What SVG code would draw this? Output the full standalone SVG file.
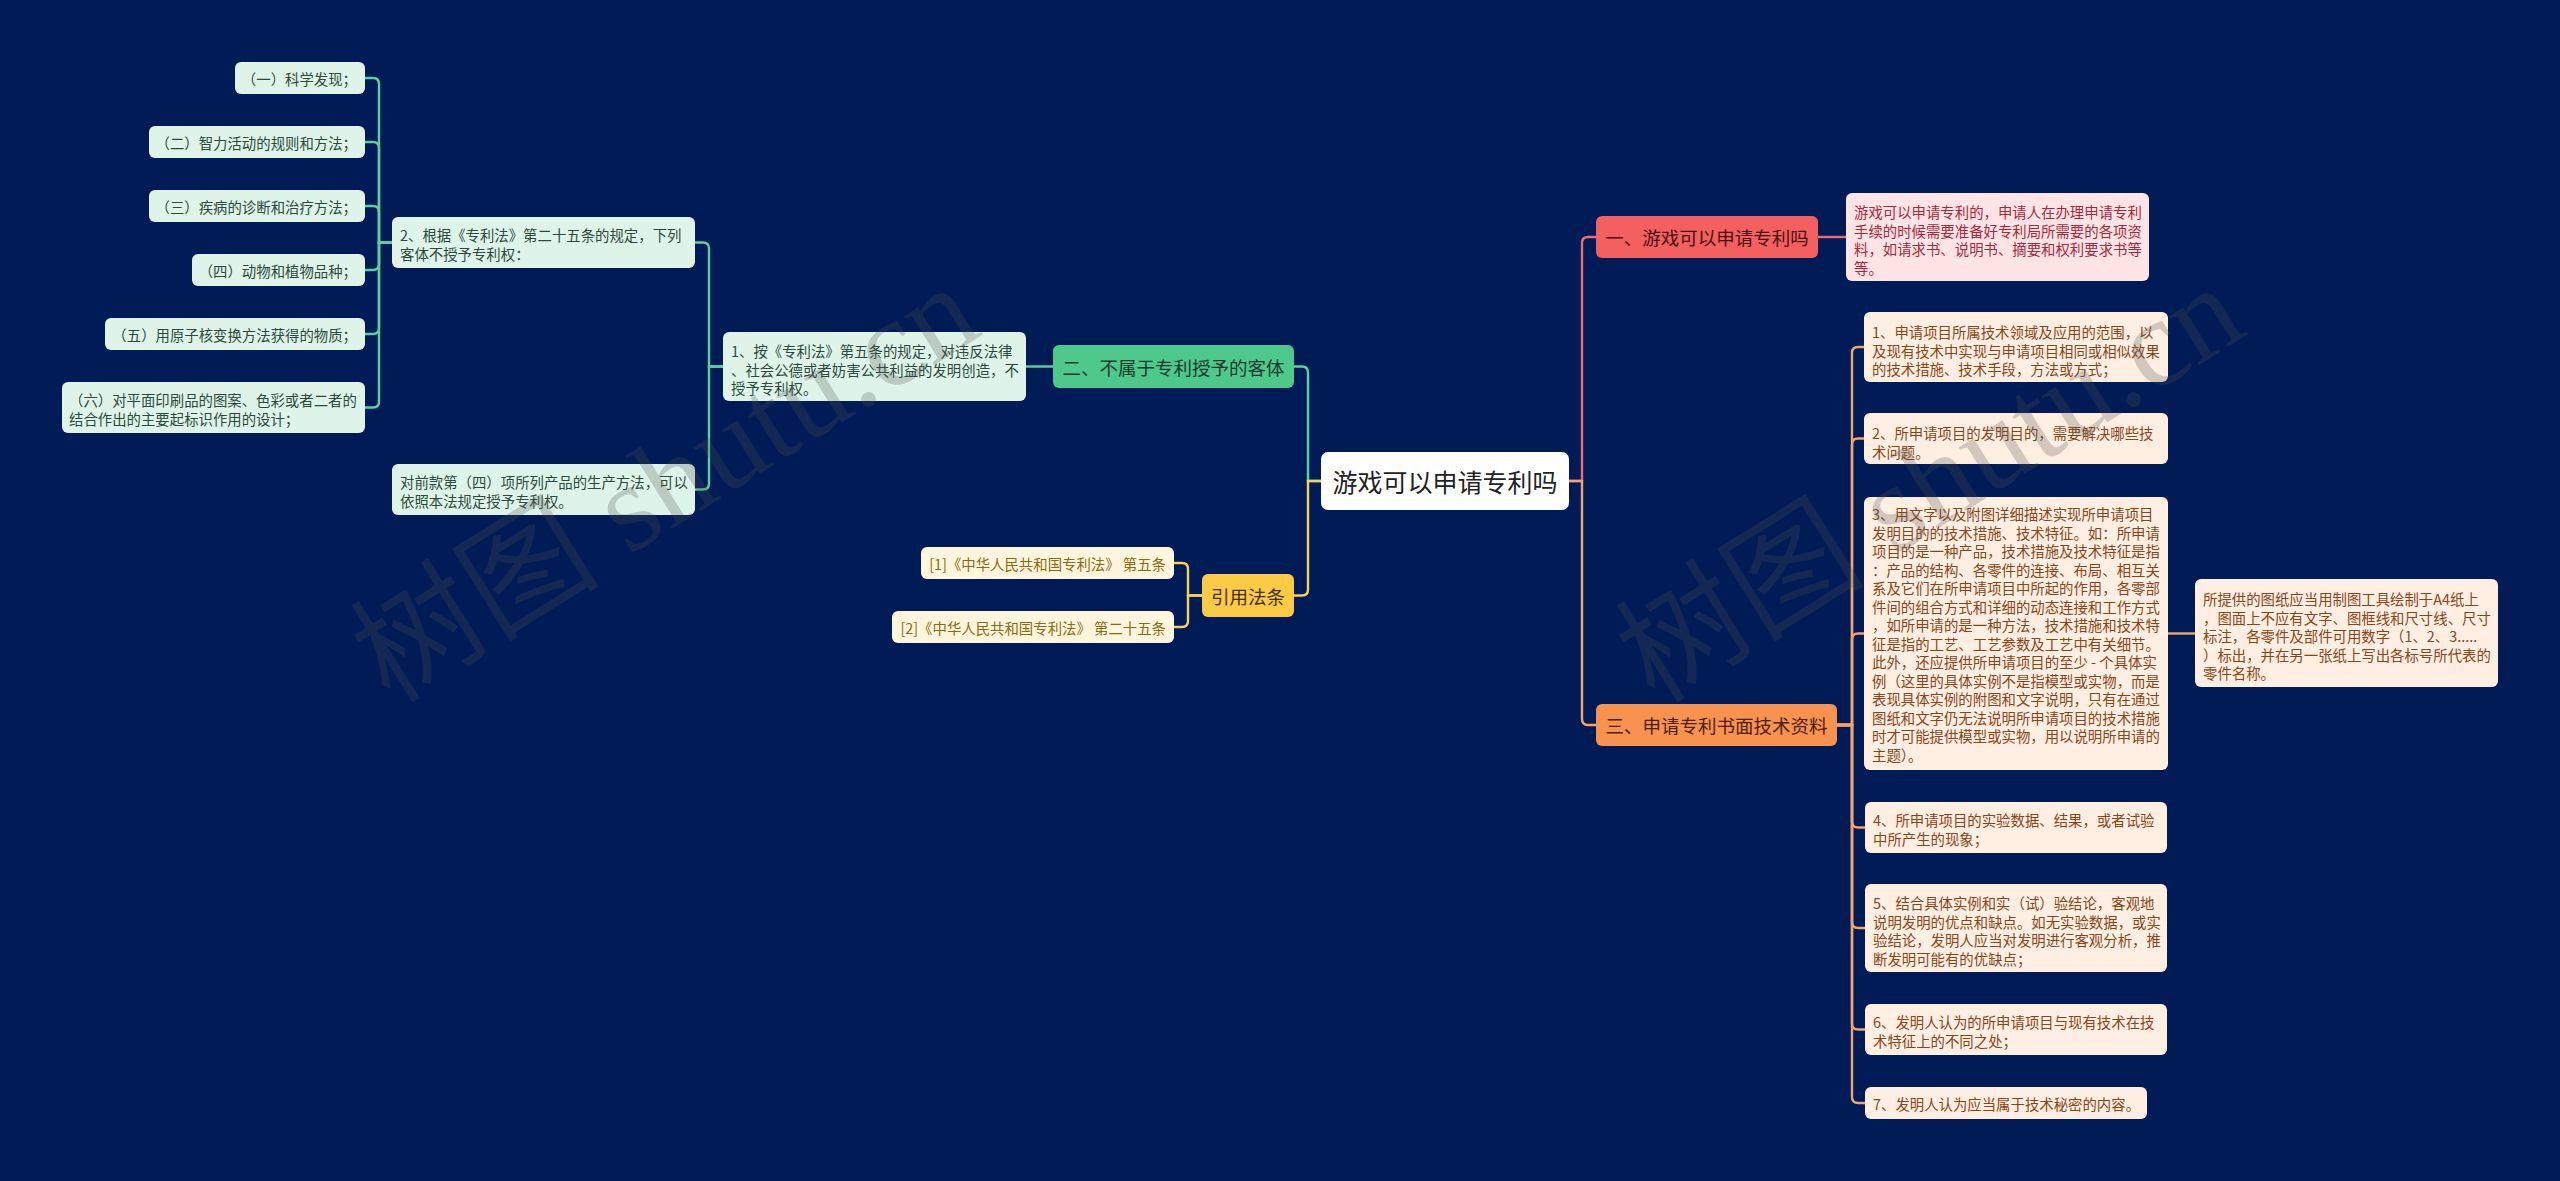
<svg xmlns="http://www.w3.org/2000/svg" width="2560" height="1181" viewBox="0 0 2560 1181">
<style>
text{font-family:"Noto Sans CJK SC","Liberation Sans",sans-serif;dominant-baseline:central}
.c{fill:none;stroke-width:2.4}
.cg{stroke:#5cd0a2}.cy{stroke:#f4d35a}.cr{stroke:#ec6a70}.co{stroke:#f2a46e}
.gl{fill:#def4e8}.gt{fill:#2c4a3c;font-size:14.4px}
.yl{fill:#fff5dc}.yt{fill:#8a6a12;font-size:14.4px}
.rl{fill:#ffe4e6}.rt{fill:#a8283a;font-size:14.4px}
.ol{fill:#ffeee2}.ot{fill:#8a4516;font-size:14.4px}
.t1{font-size:18.5px;text-anchor:middle}
.wm{font-family:"Liberation Serif","Noto Sans CJK SC",serif;font-size:125px;fill:#505050;fill-opacity:0.25;dominant-baseline:alphabetic}
</style>
<rect width="2560" height="1181" fill="#011b56"/>
<g id="connectors">
<path class="c cg" d="M392 242.5H379V84Q379 78 373 78H365"/>
<path class="c cg" d="M392 242.5H379V148Q379 142 373 142H365"/>
<path class="c cg" d="M392 242.5H379V212Q379 206 373 206H365"/>
<path class="c cg" d="M392 242.5H379V264Q379 270 373 270H365"/>
<path class="c cg" d="M392 242.5H379V328Q379 334 373 334H365"/>
<path class="c cg" d="M392 242.5H379V401.5Q379 407.5 373 407.5H365"/>
<path class="c cg" d="M723 366.5H709V248.5Q709 242.5 703 242.5H695"/>
<path class="c cg" d="M723 366.5H709V483.5Q709 489.5 703 489.5H695"/>
<path class="c cg" d="M1053 366.5H1026"/>
<path class="c cg" d="M1321 481H1308V372.5Q1308 366.5 1302 366.5H1294"/>
<path class="c cy" d="M1321 481H1308V589.5Q1308 595.5 1302 595.5H1294"/>
<path class="c cy" d="M1202 595.5H1188V569Q1188 563 1182 563H1174"/>
<path class="c cy" d="M1202 595.5H1188V621Q1188 627 1182 627H1174"/>
<path class="c cr" d="M1569 481H1582V243Q1582 237 1588 237H1596"/>
<path class="c co" d="M1569 481H1582V719Q1582 725 1588 725H1596"/>
<path class="c cr" d="M1818 237H1846"/>
<path class="c co" d="M1837 725H1852V353Q1852 347 1858 347H1864"/>
<path class="c co" d="M1837 725H1852V444.5Q1852 438.5 1858 438.5H1864"/>
<path class="c co" d="M1837 725H1852V639.5Q1852 633.5 1858 633.5H1864"/>
<path class="c co" d="M1837 725H1852V821.5Q1852 827.5 1858 827.5H1865"/>
<path class="c co" d="M1837 725H1852V922Q1852 928 1858 928H1865"/>
<path class="c co" d="M1837 725H1852V1023.5Q1852 1029.5 1858 1029.5H1865"/>
<path class="c co" d="M1837 725H1852V1097Q1852 1103 1858 1103H1865"/>
<path class="c co" d="M2168 633.5H2195"/>
</g>
<g id="root"><rect x="1321" y="452" width="248" height="58" rx="7" fill="#ffffff"/><text x="1445" y="481" font-size="25" text-anchor="middle" fill="#222">游戏可以申请专利吗</text></g>
<g id="b2"><rect x="1053" y="345" width="241" height="43" rx="6" fill="#4dc98c"/><text class="t1" x="1173.5" y="366.5" fill="#1d3a2c">二、不属于专利授予的客体</text></g>
<g id="b2-1"><rect class="gl" x="723" y="332" width="303" height="69" rx="6"/><text class="gt" x="731"><tspan x="731" y="350">1、按《专利法》第五条的规定，对违反法律</tspan><tspan x="731" y="368.5">、社会公德或者妨害公共利益的发明创造，不</tspan><tspan x="731" y="387">授予专利权。</tspan></text></g>
<g id="b2-2"><rect class="gl" x="392" y="217" width="303" height="51" rx="6"/><text class="gt"><tspan x="400" y="234">2、根据《专利法》第二十五条的规定，下列</tspan><tspan x="400" y="252.5">客体不授予专利权：</tspan></text></g>
<g id="b2-3"><rect class="gl" x="392" y="464" width="303" height="51" rx="6"/><text class="gt"><tspan x="400" y="481">对前款第（四）项所列产品的生产方法，可以</tspan><tspan x="400" y="499.5">依照本法规定授予专利权。</tspan></text></g>
<g id="l1"><rect class="gl" x="235" y="62" width="130" height="32" rx="6"/><text class="gt" x="357" y="78" text-anchor="end">（一）科学发现；</text></g>
<g id="l2"><rect class="gl" x="149" y="126" width="216" height="32" rx="6"/><text class="gt" x="357" y="142" text-anchor="end">（二）智力活动的规则和方法；</text></g>
<g id="l3"><rect class="gl" x="149" y="190" width="216" height="32" rx="6"/><text class="gt" x="357" y="206" text-anchor="end">（三）疾病的诊断和治疗方法；</text></g>
<g id="l4"><rect class="gl" x="192" y="254" width="173" height="32" rx="6"/><text class="gt" x="357" y="270" text-anchor="end">（四）动物和植物品种；</text></g>
<g id="l5"><rect class="gl" x="105" y="318" width="260" height="32" rx="6"/><text class="gt" x="357" y="334" text-anchor="end">（五）用原子核变换方法获得的物质；</text></g>
<g id="l6"><rect class="gl" x="62" y="382" width="303" height="51" rx="6"/><text class="gt"><tspan x="69" y="399">（六）对平面印刷品的图案、色彩或者二者的</tspan><tspan x="69" y="417.5">结合作出的主要起标识作用的设计；</tspan></text></g>
<g id="cite"><rect x="1202" y="574" width="92" height="43" rx="6" fill="#fbcb46"/><text class="t1" x="1248" y="595.5" fill="#3e3000">引用法条</text></g>
<g id="cite1"><rect class="yl" x="921" y="547" width="253" height="32" rx="6"/><text class="yt" x="1166" y="563" text-anchor="end">[1]《中华人民共和国专利法》 第五条</text></g>
<g id="cite2"><rect class="yl" x="892" y="611" width="282" height="32" rx="6"/><text class="yt" x="1166" y="627" text-anchor="end">[2]《中华人民共和国专利法》 第二十五条</text></g>
<g id="b1"><rect x="1596" y="216" width="222" height="42" rx="6" fill="#f2605f"/><text class="t1" x="1707" y="237" fill="#4a1010">一、游戏可以申请专利吗</text></g>
<g id="b1-1"><rect class="rl" x="1846" y="193" width="303" height="88" rx="6"/><text class="rt"><tspan x="1854" y="211">游戏可以申请专利的，申请人在办理申请专利</tspan><tspan x="1854" y="229.5">手续的时候需要准备好专利局所需要的各项资</tspan><tspan x="1854" y="248">料，如请求书、说明书、摘要和权利要求书等</tspan><tspan x="1854" y="266.5">等。</tspan></text></g>
<g id="b3"><rect x="1596" y="704" width="241" height="42" rx="6" fill="#f8924f"/><text class="t1" x="1716.5" y="725" fill="#4a2008">三、申请专利书面技术资料</text></g>
<g id="o1"><rect class="ol" x="1864" y="312" width="304" height="70" rx="6"/><text class="ot"><tspan x="1872" y="331">1、申请项目所属技术领域及应用的范围，以</tspan><tspan x="1872" y="349.5">及现有技术中实现与申请项目相同或相似效果</tspan><tspan x="1872" y="368">的技术措施、技术手段，方法或方式；</tspan></text></g>
<g id="o2"><rect class="ol" x="1864" y="413" width="304" height="51" rx="6"/><text class="ot"><tspan x="1872" y="432">2、所申请项目的发明目的，需要解决哪些技</tspan><tspan x="1872" y="450.5">术问题。</tspan></text></g>
<g id="o3"><rect class="ol" x="1864" y="497" width="304" height="273" rx="6"/><text class="ot"><tspan x="1872" y="513">3、用文字以及附图详细描述实现所申请项目</tspan><tspan x="1872" y="531.5">发明目的的技术措施、技术特征。如：所申请</tspan><tspan x="1872" y="550">项目的是一种产品，技术措施及技术特征是指</tspan><tspan x="1872" y="568.5">：产品的结构、各零件的连接、布局、相互关</tspan><tspan x="1872" y="587">系及它们在所申请项目中所起的作用，各零部</tspan><tspan x="1872" y="605.5">件间的组合方式和详细的动态连接和工作方式</tspan><tspan x="1872" y="624">，如所申请的是一种方法，技术措施和技术特</tspan><tspan x="1872" y="642.5">征是指的工艺、工艺参数及工艺中有关细节。</tspan><tspan x="1872" y="661">此外，还应提供所申请项目的至少 - 个具体实</tspan><tspan x="1872" y="679.5">例（这里的具体实例不是指模型或实物，而是</tspan><tspan x="1872" y="698">表现具体实例的附图和文字说明，只有在通过</tspan><tspan x="1872" y="716.5">图纸和文字仍无法说明所申请项目的技术措施</tspan><tspan x="1872" y="735">时才可能提供模型或实物，用以说明所申请的</tspan><tspan x="1872" y="753.5">主题）。</tspan></text></g>
<g id="o3-1"><rect class="ol" x="2195" y="579" width="303" height="108" rx="6"/><text class="ot"><tspan x="2203" y="598">所提供的图纸应当用制图工具绘制于A4纸上</tspan><tspan x="2203" y="616.5">，图面上不应有文字、图框线和尺寸线、尺寸</tspan><tspan x="2203" y="635">标注，各零件及部件可用数字（1、2、3.....</tspan><tspan x="2203" y="653.5">）标出，并在另一张纸上写出各标号所代表的</tspan><tspan x="2203" y="672">零件名称。</tspan></text></g>
<g id="o4"><rect class="ol" x="1865" y="802" width="302" height="51" rx="6"/><text class="ot"><tspan x="1873" y="819">4、所申请项目的实验数据、结果，或者试验</tspan><tspan x="1873" y="837.5">中所产生的现象；</tspan></text></g>
<g id="o5"><rect class="ol" x="1865" y="884" width="302" height="88" rx="6"/><text class="ot"><tspan x="1873" y="902">5、结合具体实例和实（试）验结论，客观地</tspan><tspan x="1873" y="920.5">说明发明的优点和缺点。如无实验数据，或实</tspan><tspan x="1873" y="939">验结论，发明人应当对发明进行客观分析，推</tspan><tspan x="1873" y="957.5">断发明可能有的优缺点；</tspan></text></g>
<g id="o6"><rect class="ol" x="1865" y="1004" width="302" height="51" rx="6"/><text class="ot"><tspan x="1873" y="1021">6、发明人认为的所申请项目与现有技术在技</tspan><tspan x="1873" y="1039.5">术特征上的不同之处；</tspan></text></g>
<g id="o7"><rect class="ol" x="1865" y="1087" width="282" height="32" rx="6"/><text class="ot" x="1873" y="1103">7、发明人认为应当属于技术秘密的内容。</text></g>
<g id="watermark">
<text class="wm" transform="translate(390 705) rotate(-32)">树图 shutu.cn</text>
<text class="wm" transform="translate(1655 705) rotate(-32)">树图 shutu.cn</text>
</g>
</svg>
